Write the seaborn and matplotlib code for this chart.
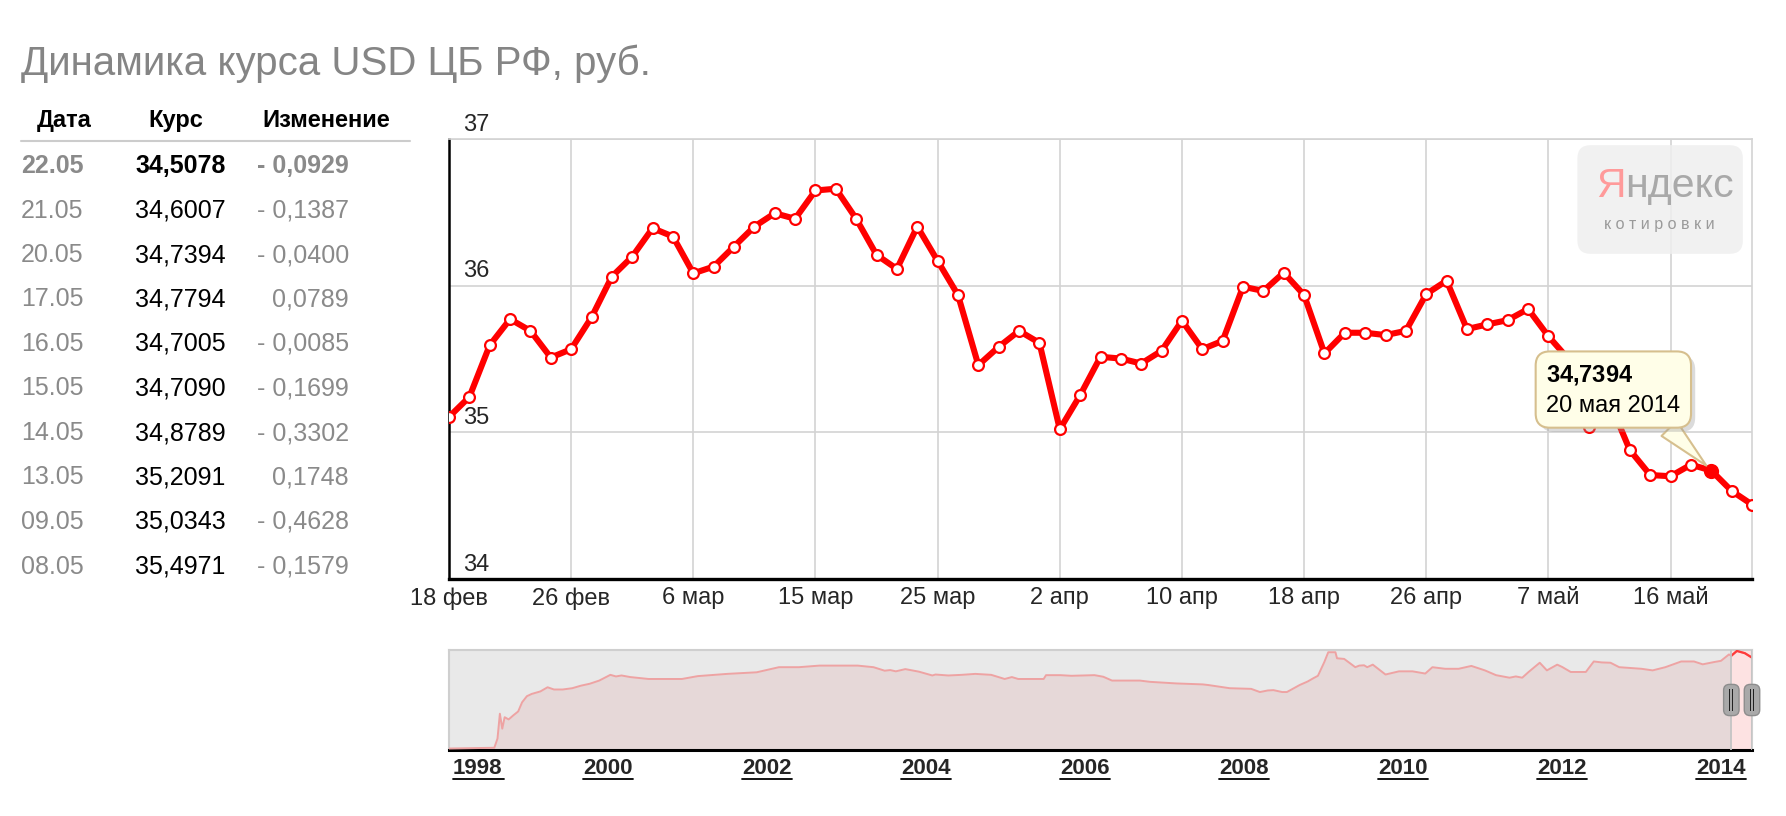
import numpy as np
import pandas as pd
import matplotlib
matplotlib.use("Agg")
import matplotlib.pyplot as plt
import matplotlib.transforms as mtransforms
import matplotlib.patheffects as pe
from matplotlib.patches import FancyBboxPatch
from matplotlib.lines import Line2D
import seaborn as sns

# ---------------- data ----------------
title_text = "Динамика курса USD ЦБ РФ, руб."

x_tick_labels = ["18 фев", "26 фев", "6 мар", "15 мар", "25 мар", "2 апр",
                 "10 апр", "18 апр", "26 апр", "7 май", "16 май"]
x_tick_step = 6
y_ticks = [34, 35, 36, 37]

main_values = [
    35.105, 35.241, 35.594, 35.772, 35.692, 35.510, 35.567, 35.784, 36.062, 36.198,
    36.392, 36.335, 36.084, 36.130, 36.267, 36.403, 36.494, 36.456, 36.649, 36.661,
    36.456, 36.210, 36.114, 36.403, 36.169, 35.936, 35.458, 35.583, 35.692, 35.610,
    35.021, 35.253, 35.515, 35.503, 35.469, 35.556, 35.761, 35.567, 35.624, 35.993,
    35.964, 36.089, 35.936, 35.538, 35.679, 35.679, 35.663, 35.692, 35.943, 36.034,
    35.704, 35.736, 35.765, 35.841, 35.655, 35.4971, 35.0343, 35.2091, 34.8789, 34.7090,
    34.7005, 34.7794, 34.7394, 34.6007, 34.5078,
]
highlight_index = 62
highlight_label = "34{,}7394"
highlight_date = "20 мая 2014"

table_header = ["Дата", "Курс", "Изменение"]
table_dates = ["22.05", "21.05", "20.05", "17.05", "16.05", "15.05", "14.05", "13.05", "09.05", "08.05"]
table_rates = ["34,5078", "34,6007", "34,7394", "34,7794", "34,7005", "34,7090", "34,8789",
               "35,2091", "35,0343", "35,4971"]
table_changes = ["- 0,0929", "- 0,1387", "- 0,0400", "0,0789", "- 0,0085", "- 0,1699",
                 "- 0,3302", "0,1748", "- 0,4628", "- 0,1579"]

nav_years = [
    1998.00, 1998.57, 1998.61, 1998.64, 1998.67, 1998.70, 1998.75, 1998.81, 1998.87, 1998.92,
    1998.98, 1999.04, 1999.15, 1999.24, 1999.32, 1999.43, 1999.55, 1999.66, 1999.77, 1999.89,
    2000.03, 2000.10, 2000.17, 2000.28, 2000.51, 2000.93, 2001.13, 2001.50, 2001.87, 2002.15,
    2002.40, 2002.66, 2003.14, 2003.34, 2003.48, 2003.55, 2003.62, 2003.74, 2003.91, 2004.08,
    2004.12, 2004.28, 2004.45, 2004.62, 2004.82, 2004.99, 2005.08, 2005.16, 2005.48, 2005.51,
    2005.69, 2005.83, 2006.12, 2006.23, 2006.34, 2006.69, 2006.82, 2007.15, 2007.48, 2007.55,
    2007.82, 2008.09, 2008.20, 2008.30, 2008.37, 2008.48, 2008.54, 2008.62, 2008.70, 2008.80,
    2008.87, 2008.93, 2009.01, 2009.06, 2009.15, 2009.17, 2009.26, 2009.40, 2009.45, 2009.51,
    2009.55, 2009.62, 2009.78, 2009.95, 2010.12, 2010.28, 2010.37, 2010.53, 2010.70, 2010.86,
    2011.03, 2011.17, 2011.34, 2011.42, 2011.50, 2011.58, 2011.72, 2011.81, 2011.94, 2012.00,
    2012.11, 2012.30, 2012.40, 2012.50, 2012.61, 2012.72, 2013.00, 2013.14, 2013.30, 2013.50,
    2013.66, 2013.77, 2013.91, 2014.00, 2014.10, 2014.13, 2014.20, 2014.30, 2014.39,
]
nav_rates = [
    5.96, 6.2, 9.1, 16.9, 12.2, 15.8, 15.1, 16.4, 17.6, 20.5,
    22.4, 23.1, 23.9, 25.2, 24.5, 24.5, 24.9, 25.7, 26.3, 27.3,
    29.1, 28.6, 28.9, 28.4, 27.8, 27.8, 28.7, 29.4, 29.9, 31.5,
    31.5, 32.0, 32.0, 31.5, 30.4, 30.6, 30.2, 30.9, 30.1, 28.9,
    29.2, 28.9, 29.1, 29.4, 29.1, 27.8, 28.4, 27.8, 27.8, 29.0,
    29.0, 28.8, 29.0, 28.5, 27.3, 27.3, 26.9, 26.4, 26.1, 25.9,
    24.9, 24.7, 23.7, 24.2, 24.3, 23.7, 23.7, 24.8, 25.9, 27.0,
    28.0, 28.8, 33.1, 36.2, 36.2, 34.3, 34.1, 31.5, 32.0, 32.1,
    31.5, 32.3, 29.2, 30.2, 30.2, 29.5, 31.5, 31.0, 31.0, 31.9,
    30.5, 29.0, 28.2, 28.6, 28.2, 30.0, 32.9, 30.5, 32.3, 31.6,
    30.0, 30.0, 33.3, 33.0, 32.9, 31.5, 31.0, 30.5, 31.5, 33.3,
    33.3, 32.4, 33.1, 33.5, 35.5, 35.1, 36.6, 35.9, 34.5,
]
nav_window = (2014.13, 2014.39)
nav_year_labels = [1998, 2000, 2002, 2004, 2006, 2008, 2010, 2012, 2014]

# ---------------- style ----------------
W, H = 1786, 816
sns.set_style("white")
plt.rcParams["font.family"] = ["Liberation Sans", "DejaVu Sans"]
plt.rcParams["mathtext.fontset"] = "custom"
plt.rcParams["mathtext.rm"] = "Liberation Sans"
plt.rcParams["mathtext.bf"] = "Liberation Sans:bold"

fig = plt.figure(figsize=(W / 100, H / 100), dpi=100)
fig.patch.set_facecolor("white")


def fx(px):
    return px / W


def fy(py):
    return 1 - py / H


# ---------------- title & table ----------------
fig.text(fx(21), fy(75), title_text, fontsize=29, color="#858585", va="baseline", ha="left")

header_x = [64, 176, 326]
for hx_, txt in zip(header_x, table_header):
    fig.text(fx(hx_), fy(127), txt, fontsize=17, fontweight="bold", color="black",
             ha="center", va="baseline")
fig.add_artist(Line2D([fx(21), fx(410)], [fy(141), fy(141)], color="#cccccc", lw=1.5))

for k, (d, r, c) in enumerate(zip(table_dates, table_rates, table_changes)):
    yb = fy(173 + 44.5 * k)
    w = "bold" if k == 0 else "normal"
    fig.text(fx(21), yb, d, fontsize=18, color="#8a8a8a", fontweight=w, ha="left", va="baseline")
    fig.text(fx(135), yb, r, fontsize=18, color="black", fontweight=w, ha="left", va="baseline")
    fig.text(fx(349), yb, c, fontsize=18, color="#8a8a8a", fontweight=w, ha="right", va="baseline")

# ---------------- main chart ----------------
ax = fig.add_axes([fx(449), fy(579), fx(1752) - fx(449), fy(139) - fy(579)])
df = pd.DataFrame({"idx": np.arange(len(main_values)), "rate": main_values})
sns.lineplot(data=df, x="idx", y="rate", ax=ax, color="#ff0000", linewidth=4.4,
             marker="o", markersize=7.8, markerfacecolor="white",
             markeredgecolor="#ff0000", markeredgewidth=1.6, zorder=5)

ax.set_xlim(0, len(main_values) - 1)
ax.set_ylim(y_ticks[0], y_ticks[-1])
ax.set_xticks(np.arange(len(x_tick_labels)) * x_tick_step)
ax.set_xticklabels(x_tick_labels, fontsize=17)
ax.set_yticks(y_ticks)
ax.set_yticklabels([])
ax.tick_params(axis="both", length=0, pad=6)
ax.grid(True, color="#d3d3d3", lw=1.2)
ax.set_axisbelow(True)
ax.set_xlabel("")
ax.set_ylabel("")
for s in ["top", "right"]:
    ax.spines[s].set_color("#d3d3d3")
    ax.spines[s].set_linewidth(1.2)
ax.spines["left"].set_color("black")
ax.spines["left"].set_linewidth(1.8)
ax.spines["bottom"].set_color("black")
ax.spines["bottom"].set_linewidth(2.4)

for v in y_ticks:
    ax.annotate(str(v), xy=(0, v), xycoords=("axes fraction", "data"), xytext=(10, 6),
                textcoords="offset points", fontsize=17, ha="left", va="baseline",
                annotation_clip=False)

# Yandex badge
badge = FancyBboxPatch((0.866, 0.739), 0.127, 0.247,
                       boxstyle="round,pad=0,rounding_size=0.01", mutation_aspect=3.0,
                       transform=ax.transAxes, fc="#efefef", ec="none", alpha=0.85, zorder=3)
ax.add_patch(badge)
t_ya = ax.text(0.880, 0.893, "Я", transform=ax.transAxes, color="#ff9a9a", fontsize=29.5,
               ha="left", va="center", zorder=4)
ax.annotate("ндекс", xy=(1, 0), xycoords=t_ya, xytext=(0, 0), textcoords="offset points",
            color="#a9a9a9", fontsize=29.5, ha="left", va="bottom", zorder=4)
ax.text(0.929, 0.805, "к о т и р о в к и", transform=ax.transAxes, fontsize=11.5,
        color="#9a9a9a", ha="center", va="center", zorder=4)

# highlighted point & tooltip
hx, hy = highlight_index, main_values[highlight_index]
sns.scatterplot(x=[hx], y=[hy], ax=ax, color="#ff0000", s=120, edgecolor="#ff0000",
                linewidth=0, zorder=7)
tip = ax.annotate("$\\mathbf{" + highlight_label + "}$\n" + highlight_date, xy=(hx, hy),
                  xytext=(-165, 108), textcoords="offset pixels", ha="left", va="top",
                  fontsize=17, color="black", linespacing=1.5,
                  bbox=dict(boxstyle="round,pad=0.45,rounding_size=0.6", fc="#fffee8",
                            ec="#d6bf8e", lw=1.5),
                  arrowprops=dict(arrowstyle="wedge,tail_width=0.9,shrink_factor=0.5",
                                  fc="#fffee8", ec="#d6bf8e", lw=1.5, relpos=(0.83, 0.0),
                                  shrinkA=0, shrinkB=5),
                  zorder=8, annotation_clip=False)
tip.get_bbox_patch().set_path_effects([
    pe.SimplePatchShadow(offset=(3, -3), shadow_rgbFace="#999999", alpha=0.35), pe.Normal()])

# ---------------- navigator ----------------
nav = fig.add_axes([fx(449), fy(750), fx(1752) - fx(449), fy(650) - fy(750)])
nav.set_facecolor("#e9e9e9")
nav_ylim = (5.5, 36.9)
ndf = pd.DataFrame({"year": nav_years, "rate": nav_rates})
nav.fill_between(ndf["year"], ndf["rate"], nav_ylim[0], color="#e6d8d8", lw=0, zorder=1)
nav.axvspan(nav_window[0], nav_window[1], color="#fde2e2", zorder=2)
sns.lineplot(data=ndf, x="year", y="rate", ax=nav, color="#eea3a3", lw=1.4, zorder=3)
win = ndf[ndf["year"] >= nav_window[0]]
sns.lineplot(data=win, x="year", y="rate", ax=nav, color="#ff3b3b", lw=1.6, zorder=4)
for xw in nav_window:
    nav.axvline(xw, color="#c4c4c4", lw=1.3, zorder=5)
blend = mtransforms.blended_transform_factory(nav.transData, nav.transAxes)
for xw in nav_window:
    nav.text(xw, 0.5, "||\n||", transform=blend, fontsize=8.5, fontweight="normal",
             color="#222222", linespacing=0.75, ha="center", va="center", zorder=6,
             clip_on=False,
             bbox=dict(boxstyle="round,pad=0.4,rounding_size=0.5", fc="#a9a9a9",
                       ec="#8d8d8d", lw=1))

nav.set_xlim(nav_years[0], nav_window[1])
nav.set_ylim(*nav_ylim)
nav.set_xticks([])
nav.set_yticks([])
nav.set_xlabel("")
nav.set_ylabel("")
for s in ["top", "left", "right"]:
    nav.spines[s].set_color("#cfcfcf")
    nav.spines[s].set_linewidth(1.5)
nav.spines["bottom"].set_color("black")
nav.spines["bottom"].set_linewidth(2.2)

half_w = 0.32
for yr in nav_year_labels:
    if yr == nav_year_labels[0]:
        x0 = yr + 0.05
        nav.text(x0, -0.19, str(yr), transform=blend, fontsize=16, fontweight="bold",
                 ha="left", va="center", clip_on=False)
        nav.plot([x0, x0 + 2 * half_w], [-0.29, -0.29], transform=blend, color="black",
                 lw=1.3, clip_on=False)
    else:
        nav.text(yr, -0.19, str(yr), transform=blend, fontsize=16, fontweight="bold",
                 ha="center", va="center", clip_on=False)
        nav.plot([yr - half_w, yr + half_w], [-0.29, -0.29], transform=blend, color="black",
                 lw=1.3, clip_on=False)

fig.savefig("out.png", dpi=100, facecolor="white")
